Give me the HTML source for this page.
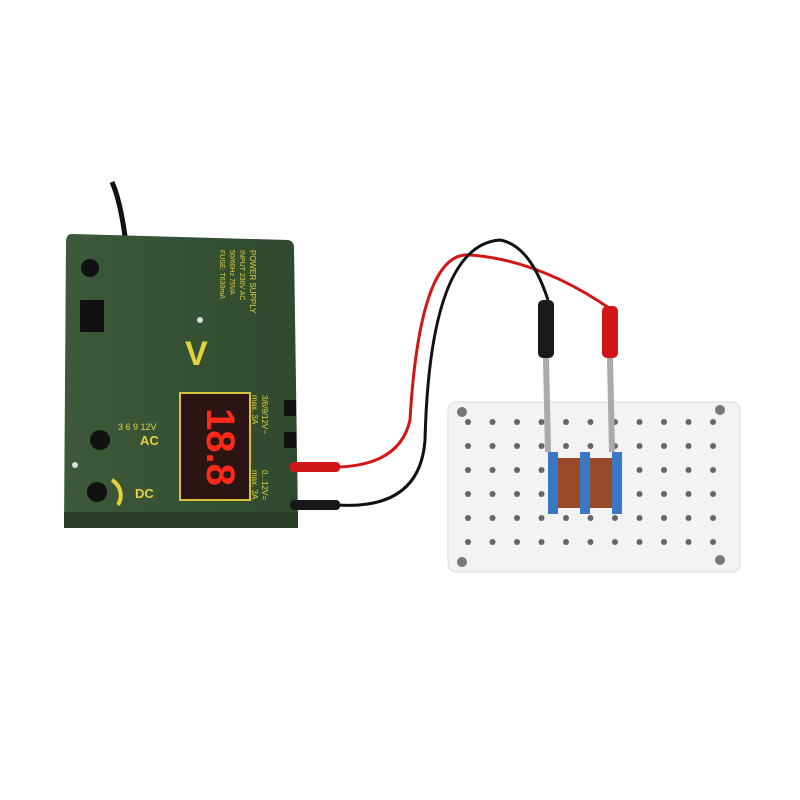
<!DOCTYPE html>
<html><head><style>
body{margin:0;width:800px;height:800px;background:#fff;overflow:hidden;position:relative;font-family:"Liberation Sans",sans-serif}
.abs{position:absolute}
</style></head><body>
<svg class="abs" style="left:0;top:0" width="800" height="800">
<defs>
<linearGradient id="g" x1="0" x2="1"><stop offset="0" stop-color="#3c5a3a"/><stop offset="1" stop-color="#2f4a2e"/></linearGradient>
</defs>
<path d="M112 182 Q120 200 125 236" stroke="#111" stroke-width="5" fill="none"/>
<rect x="448" y="402" width="292" height="170" rx="8" fill="#f3f3f3" stroke="#ddd"/>
<g fill="#777">
<circle cx="462" cy="412" r="5"/><circle cx="720" cy="410" r="5"/><circle cx="462" cy="562" r="5"/><circle cx="720" cy="560" r="5"/>
</g>
<g fill="#666" id="dots"></g>
<path d="M72 234 L288 240 Q294 241 294 248 L298 520 L64 528 L66 242 Q66 234 72 234 Z" fill="url(#g)"/>
<rect x="64" y="512" width="234" height="16" fill="#263c25"/>
<rect x="180" y="393" width="70" height="107" fill="#2a1414" stroke="#d8c23a" stroke-width="2"/>
<text x="215" y="455" fill="#ff2a1a" font-size="40" font-weight="bold" text-anchor="middle" transform="rotate(90 215 447)">18.8</text>
<rect x="80" y="300" width="24" height="32" fill="#111"/>
<circle cx="90" cy="268" r="9" fill="#111"/>
<circle cx="100" cy="440" r="10" fill="#111"/>
<circle cx="97" cy="492" r="10" fill="#111"/>
<path d="M112 480 A18 18 0 0 1 118 505" stroke="#e6d23a" stroke-width="4" fill="none"/>
<circle cx="200" cy="320" r="3" fill="#ddd"/><circle cx="75" cy="465" r="3" fill="#ddd"/>
<text x="185" y="365" fill="#e6d23a" font-size="34" font-weight="bold">V</text>
<text x="140" y="445" fill="#e6d23a" font-size="13" font-weight="bold">AC</text>
<text x="135" y="498" fill="#e6d23a" font-size="13" font-weight="bold">DC</text>
<text x="118" y="430" fill="#e6d23a" font-size="9">3 6 9 12V</text>
<text fill="#e6d23a" font-size="8" transform="translate(250,250) rotate(90)">POWER SUPPLY</text>
<text fill="#e6d23a" font-size="7" transform="translate(240,250) rotate(90)">INPUT 230V AC</text>
<text fill="#e6d23a" font-size="7" transform="translate(230,250) rotate(90)">50/60Hz 75VA</text>
<text fill="#e6d23a" font-size="7" transform="translate(220,250) rotate(90)">FUSE: T630mA</text>
<text fill="#e6d23a" font-size="8" transform="translate(262,395) rotate(90)">3/6/9/12V~</text>
<text fill="#e6d23a" font-size="8" transform="translate(252,395) rotate(90)">max. 3A</text>
<text fill="#e6d23a" font-size="8" transform="translate(262,470) rotate(90)">0...12V=</text>
<text fill="#e6d23a" font-size="8" transform="translate(252,470) rotate(90)">max. 3A</text>
<rect x="284" y="400" width="12" height="16" fill="#111"/><rect x="284" y="432" width="12" height="16" fill="#111"/>
<rect x="290" y="462" width="50" height="10" rx="4" fill="#d01818"/>
<rect x="290" y="500" width="50" height="10" rx="4" fill="#181818"/>
<path d="M338 467 Q400 465 410 420 Q420 250 470 255 Q540 260 612 310" stroke="#d41515" stroke-width="3" fill="none"/>
<path d="M338 505 Q420 510 425 440 Q430 245 500 240 Q530 245 548 300" stroke="#111" stroke-width="3" fill="none"/>
<rect x="538" y="300" width="16" height="58" rx="5" fill="#1a1a1a"/>
<rect x="602" y="306" width="16" height="52" rx="5" fill="#d41515"/>
<path d="M546 358 L548 452" stroke="#aaa" stroke-width="6"/>
<path d="M610 358 L612 452" stroke="#aaa" stroke-width="6"/>
<rect x="555" y="458" width="62" height="50" fill="#9a4a2a"/>
<rect x="548" y="452" width="10" height="62" fill="#3a78c4"/>
<rect x="580" y="452" width="10" height="62" fill="#3a78c4"/>
<rect x="612" y="452" width="10" height="62" fill="#3a78c4"/>
</svg>
<script>
var g=document.getElementById('dots'),s='';
for(var r=0;r<6;r++)for(var c=0;c<11;c++){var x=468+c*24.5,y=422+r*24;s+='<circle cx="'+x+'" cy="'+y+'" r="3"/>';}
g.innerHTML=s;
</script>
</body></html>
